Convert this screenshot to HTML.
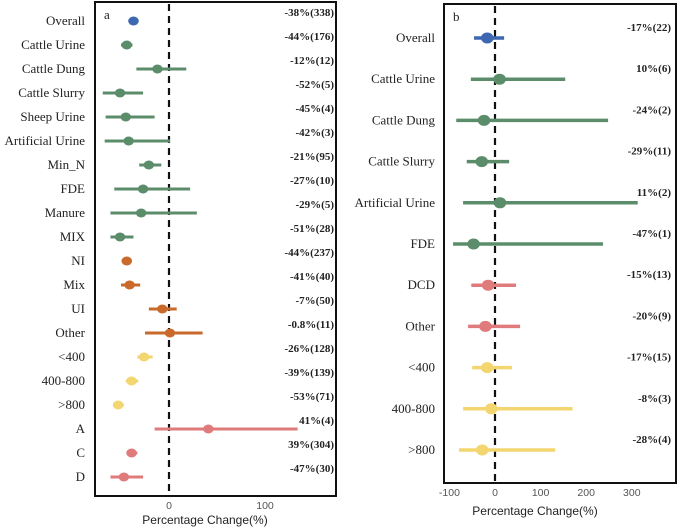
<!DOCTYPE html>
<html><head><meta charset="utf-8"><style>
html,body{margin:0;padding:0;background:#fff;width:678px;height:529px;overflow:hidden}
svg{display:block}
.lab{font-family:"Liberation Serif",serif;font-size:13px;fill:#222}
.ann{font-family:"Liberation Serif",serif;font-size:11px;font-weight:bold;fill:#222}
.tick{font-family:"Liberation Sans",sans-serif;font-size:10.5px;fill:#555}
.title{font-family:"Liberation Sans",sans-serif;font-size:12px;fill:#222}
</style></head><body>
<svg id="chart" width="678" height="529"></svg>
<script>
// Panel a data
const aCats=["Overall","Cattle Urine","Cattle Dung","Cattle Slurry","Sheep Urine","Artificial Urine","Min_N","FDE","Manure","MIX","NI","Mix","UI","Other","<400","400-800",">800","A","C","D"];
const aMean=[-37,-44,-12,-51,-45,-42,-21,-27,-29,-51,-44,-41,-7,1,-26,-39,-53,41,-39,-47];
const aLow=[-42,-50,-34,-69,-66,-67,-31,-57,-61,-61,-47,-50,-21,-25,-33,-45,-58,-15,-43,-61];
const aHigh=[-32,-38,18,-27,-15,1,-8,22,29,-37,-41,-30,8,35,-17,-32,-47,134,-33,-27];
const aAnn=["-38%(338)","-44%(176)","-12%(12)","-52%(5)","-45%(4)","-42%(3)","-21%(95)","-27%(10)","-29%(5)","-51%(28)","-44%(237)","-41%(40)","-7%(50)","-0.8%(11)","-26%(128)","-39%(139)","-53%(71)","41%(4)","39%(304)","-47%(30)"];
const aGroup=[0,1,1,1,1,1,1,1,1,1,2,2,2,2,3,3,3,4,4,4];
const aTicks=[0,100];
// Panel b data
const bCats=["Overall","Cattle Urine","Cattle Dung","Cattle Slurry","Artificial Urine","FDE","DCD","Other","<400","400-800",">800"];
const bMean=[-17,10,-24,-29,11,-47,-15,-21,-17,-8,-28];
const bLow=[-46,-53,-85,-62,-70,-92,-52,-59,-50,-70,-79];
const bHigh=[20,154,248,31,313,237,46,55,37,170,132];
const bAnn=["-17%(22)","10%(6)","-24%(2)","-29%(11)","11%(2)","-47%(1)","-15%(13)","-20%(9)","-17%(15)","-8%(3)","-28%(4)"];
const bGroup=[0,1,1,1,1,1,4,4,3,3,3];
const bTicks=[-100,0,100,200,300];

const colors=["#3d67b1","#5b8d6b","#c9692b","#f3d670","#e07b7b"];
const NS="http://www.w3.org/2000/svg";
const svg=document.getElementById('chart');
function mk(tag,attrs,parent){const e=document.createElementNS(NS,tag);for(const k in attrs)e.setAttribute(k,attrs[k]);(parent||svg).appendChild(e);return e;}

function panel(cfg){
  const g=mk('g',{});
  
  
  const x=v=>cfg.x0+v*cfg.scale;
  const y=i=>cfg.y0+i*cfg.step;
  const box=mk('rect',{x:cfg.left,y:cfg.top,width:cfg.right-cfg.left,height:cfg.bottom-cfg.top,fill:'none',stroke:'#111','stroke-width':2},g);
  
  
  const zl=mk('line',{x1:x(0),x2:x(0),y1:cfg.top+2,y2:cfg.bottom,stroke:'#111','stroke-width':2.2,'stroke-dasharray':'7,5'},g);
  
  
  const pl=mk('text',{x:cfg.left+9,y:cfg.top+17,class:'lab'},g);pl.textContent=cfg.letter;
  
  
  cfg.cats.forEach((c,i)=>{
    const col=colors[cfg.group[i]];
    const t=mk('text',{x:cfg.labX,y:y(i)+4,'text-anchor':'end',class:'lab'},g);t.textContent=c;
    
    
    const ci=mk('line',{x1:x(cfg.low[i]),x2:x(cfg.high[i]),y1:y(i),y2:y(i),stroke:col,'stroke-width':cfg.lw},g);
    
    
    const p=mk('ellipse',{cx:x(cfg.mean[i]),cy:y(i),rx:cfg.r+0.8,ry:cfg.r,fill:col},g);
    
    
    const a=mk('text',{x:cfg.annX,y:y(i)-cfg.annOff,'text-anchor':'end',class:'ann'},g);a.textContent=cfg.ann[i];
    
    
  });
  cfg.ticks.forEach(v=>{
    const t=mk('text',{x:x(v),y:cfg.bottom+13,'text-anchor':'middle',class:'tick'},g);t.textContent=v;
    
    
  });
  const tt=mk('text',{x:cfg.titleX,y:cfg.titleY,'text-anchor':'middle',class:'title'},g);tt.textContent='Percentage Change(%)';
  
  
}
panel({name:'panel-a',letter:'a',left:95,right:336,top:2,bottom:496,x0:169,scale:0.96,y0:21,step:24.0,
  cats:aCats,mean:aMean,low:aLow,high:aHigh,ann:aAnn,group:aGroup,ticks:aTicks,labX:85,annX:334,annOff:5,lw:3,r:4.5,titleX:205,titleY:524});
panel({name:'panel-b',letter:'b',left:444,right:676,top:4,bottom:483,x0:495,scale:0.456,y0:38,step:41.2,
  cats:bCats,mean:bMean,low:bLow,high:bHigh,ann:bAnn,group:bGroup,ticks:bTicks,labX:435,annX:671,annOff:7,lw:3.5,r:5.5,titleX:535,titleY:515});
</script>
</body></html>
